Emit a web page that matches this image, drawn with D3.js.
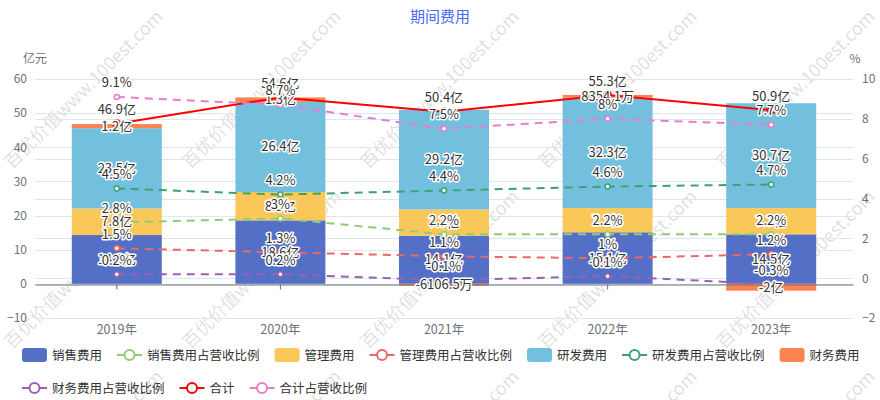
<!DOCTYPE html>
<html><head><meta charset="utf-8">
<script src="https://cdn.jsdelivr.net/npm/d3@7/dist/d3.min.js"></script>
<style>
body{margin:0;background:#fff;}
svg text{font-family:"Noto Sans CJK SC","Noto Sans",sans-serif;}
</style></head>
<body><svg id="c" width="880" height="400"></svg>
<script>
const years = ["2019年","2020年","2021年","2022年","2023年"];
const sales = [14.3, 18.6, 14.1, 15.1, 14.5];
const mgmt = [7.8, 8.3, 7.7, 7.1, 7.7];
const rd = [23.5, 26.4, 29.2, 32.3, 30.7];
const fin = [1.2, 1.3, -0.61065, 0.83541, -2];
const total = [46.9, 54.6, 50.4, 55.3, 50.9];
const salesPct = [2.8, 3, 2.2, 2.2, 2.2];
const mgmtPct = [1.5, 1.3, 1.1, 1, 1.2];
const rdPct = [4.5, 4.2, 4.4, 4.6, 4.7];
const finPct = [0.2, 0.2, -0.1, 0.1, -0.3];
const totalPct = [9.1, 8.7, 7.5, 8, 7.7];
const leftTicks = [-10, 0, 10, 20, 30, 40, 50, 60];
const rightTicks = [-2, 0, 2, 4, 6, 8, 10];

const svg = d3.select("#c");
const L = 35, R = 853, T = 79, B = 318;
const x = d3.scaleBand().domain(years).range([L, R]);
const yL = d3.scaleLinear().domain([-10, 60]).range([B, T]);
const yR = d3.scaleLinear().domain([-2, 10]).range([B, T]);
const bw = 90;

// watermark
const wm = svg.append("g");
for (let i = -1; i < 6; i++) for (let j = -1; j < 3; j++) {
  const sx = 12 + 178 * i, sy = 170 + 180 * j;
  wm.append("text").attr("x", sx).attr("y", sy)
    .attr("transform", `rotate(-45,${sx},${sy})`)
    .attr("font-size", 18).attr("fill", "rgba(0,0,0,0.14)")
    .text("百优价值www.100est.com");
}

// title
svg.append("text").attr("x", 440).attr("y", 22).attr("text-anchor", "middle")
  .attr("font-size", 15).attr("fill", "#4a6af0").text("期间费用");

// grid
const grid = svg.append("g");
leftTicks.forEach(v => grid.append("line").attr("x1", L).attr("x2", R)
  .attr("y1", Math.round(yL(v)) + 0.5).attr("y2", Math.round(yL(v)) + 0.5)
  .attr("stroke", "#E0E6F1"));
rightTicks.forEach(v => grid.append("line").attr("x1", L).attr("x2", R)
  .attr("y1", Math.round(yR(v)) + 0.5).attr("y2", Math.round(yR(v)) + 0.5)
  .attr("stroke", "#E0E6F1"));

// axes
const axL = svg.append("g").attr("transform", `translate(${L},0)`)
  .call(d3.axisLeft(yL).tickValues(leftTicks).tickSize(0).tickPadding(8));
axL.select(".domain").remove();
axL.selectAll("text").attr("font-size", 12).attr("fill", "#6e7079");
const axR = svg.append("g").attr("transform", `translate(${R},0)`)
  .call(d3.axisRight(yR).tickValues(rightTicks).tickSize(0).tickPadding(9));
axR.select(".domain").remove();
axR.selectAll("text").attr("font-size", 12).attr("fill", "#6e7079");
svg.append("text").attr("x", 35).attr("y", 63).attr("text-anchor", "middle")
  .attr("font-size", 12).attr("fill", "#6e7079").text("亿元");
svg.append("text").attr("x", 855).attr("y", 63).attr("text-anchor", "middle")
  .attr("font-size", 12).attr("fill", "#6e7079").text("%");

// bars
const barSeries = [
  {name: "销售费用", data: sales, color: "#5470c6"},
  {name: "管理费用", data: mgmt, color: "#fac858"},
  {name: "研发费用", data: rd, color: "#73c0de"},
  {name: "财务费用", data: fin, color: "#fc8452"}
];
const labels = [];
const fmtAmt = v => Math.abs(v) < 1 ? (+(v * 10000).toFixed(1)) + "万" : (+v.toFixed(1)) + "亿";
const posBase = years.map(() => 0), negBase = years.map(() => 0);
const barG = svg.append("g");
barSeries.forEach(s => {
  s.data.forEach((v, i) => {
    let y0, y1;
    if (v >= 0) { y0 = posBase[i]; y1 = y0 + v; posBase[i] = y1; }
    else { y0 = negBase[i]; y1 = y0 + v; negBase[i] = y1; }
    const cx = x(years[i]) + x.bandwidth() / 2;
    const top = Math.min(yL(y0), yL(y1)), h = Math.abs(yL(y0) - yL(y1));
    barG.append("rect").attr("x", cx - bw / 2).attr("y", top).attr("width", bw)
      .attr("height", h).attr("fill", s.color);
    labels.push({x: cx, y: top + h / 2 + 4.5, t: fmtAmt(v)});
  });
});

// x axis
const axB = svg.append("g").attr("transform", `translate(0,${Math.round(yL(0)) + 0.5})`)
  .call(d3.axisBottom(x).tickSizeInner(5).tickSizeOuter(0).tickPadding(36));
axB.select(".domain").attr("stroke", "#6e7079");
axB.selectAll(".tick line").attr("stroke", "#6e7079");
axB.selectAll("text").attr("font-size", 12.5).attr("fill", "#6e7079");

// lines
const lineSeries = [
  {name: "销售费用占营收比例", data: salesPct, color: "#91cc75", y: yR, dash: true, fmt: v => v + "%"},
  {name: "管理费用占营收比例", data: mgmtPct, color: "#ee6666", y: yR, dash: true, fmt: v => v + "%"},
  {name: "研发费用占营收比例", data: rdPct, color: "#3ba272", y: yR, dash: true, fmt: v => v + "%"},
  {name: "财务费用占营收比例", data: finPct, color: "#9a60b4", y: yR, dash: true, fmt: v => v + "%"},
  {name: "合计", data: total, color: "#ff0000", y: yL, dash: false, fmt: v => v + "亿"},
  {name: "合计占营收比例", data: totalPct, color: "#ea7ccc", y: yR, dash: true, fmt: v => v + "%"}
];
const lineG = svg.append("g");
lineSeries.forEach(s => {
  const pts = s.data.map((v, i) => [x(years[i]) + x.bandwidth() / 2, s.y(v)]);
  lineG.append("path").attr("d", d3.line()(pts)).attr("fill", "none")
    .attr("stroke", s.color).attr("stroke-width", 2)
    .attr("stroke-dasharray", s.dash ? "8,6" : null);
  pts.forEach((p, i) => {
    lineG.append("circle").attr("cx", p[0]).attr("cy", p[1]).attr("r", s.dash ? 2.5 : 3.5)
      .attr("fill", "#fff").attr("stroke", s.color).attr("stroke-width", s.dash ? 1.5 : 2);
    labels.push({x: p[0], y: p[1] - 9.5, t: s.fmt(s.data[i])});
  });
});

// labels
const labG = svg.append("g");
labels.forEach(l => labG.append("text").attr("x", l.x).attr("y", l.y)
  .attr("text-anchor", "middle").attr("font-size", 13).attr("fill", "#333")
  .attr("stroke", "#fff").attr("stroke-width", 3).attr("stroke-linejoin", "round")
  .attr("paint-order", "stroke").text(l.t));

// legend
const legendItems = [
  {name: "销售费用", color: "#5470c6", type: "bar"},
  {name: "销售费用占营收比例", color: "#91cc75", type: "line"},
  {name: "管理费用", color: "#fac858", type: "bar"},
  {name: "管理费用占营收比例", color: "#ee6666", type: "line"},
  {name: "研发费用", color: "#73c0de", type: "bar"},
  {name: "研发费用占营收比例", color: "#3ba272", type: "line"},
  {name: "财务费用", color: "#fc8452", type: "bar"},
  {name: "财务费用占营收比例", color: "#9a60b4", type: "line"},
  {name: "合计", color: "#ff0000", type: "line"},
  {name: "合计占营收比例", color: "#ea7ccc", type: "line"}
];
const legG = svg.append("g");
let lx = 22, ly = 355;
legendItems.forEach((it, k) => {
  if (k === 7) { lx = 22; ly = 388; }
  const g = legG.append("g");
  if (it.type === "bar") {
    g.append("rect").attr("x", lx).attr("y", ly - 7).attr("width", 25).attr("height", 14)
      .attr("rx", 3).attr("fill", it.color);
  } else {
    g.append("line").attr("x1", lx).attr("x2", lx + 25).attr("y1", ly).attr("y2", ly)
      .attr("stroke", it.color).attr("stroke-width", 2);
    g.append("circle").attr("cx", lx + 12.5).attr("cy", ly).attr("r", 5)
      .attr("fill", "#fff").attr("stroke", it.color).attr("stroke-width", 2);
  }
  const t = g.append("text").attr("x", lx + 30).attr("y", ly + 4.5).attr("font-size", 12.5)
    .attr("fill", "#333").text(it.name);
  lx += 30 + t.node().getComputedTextLength() + 15;
});
</script></body></html>
